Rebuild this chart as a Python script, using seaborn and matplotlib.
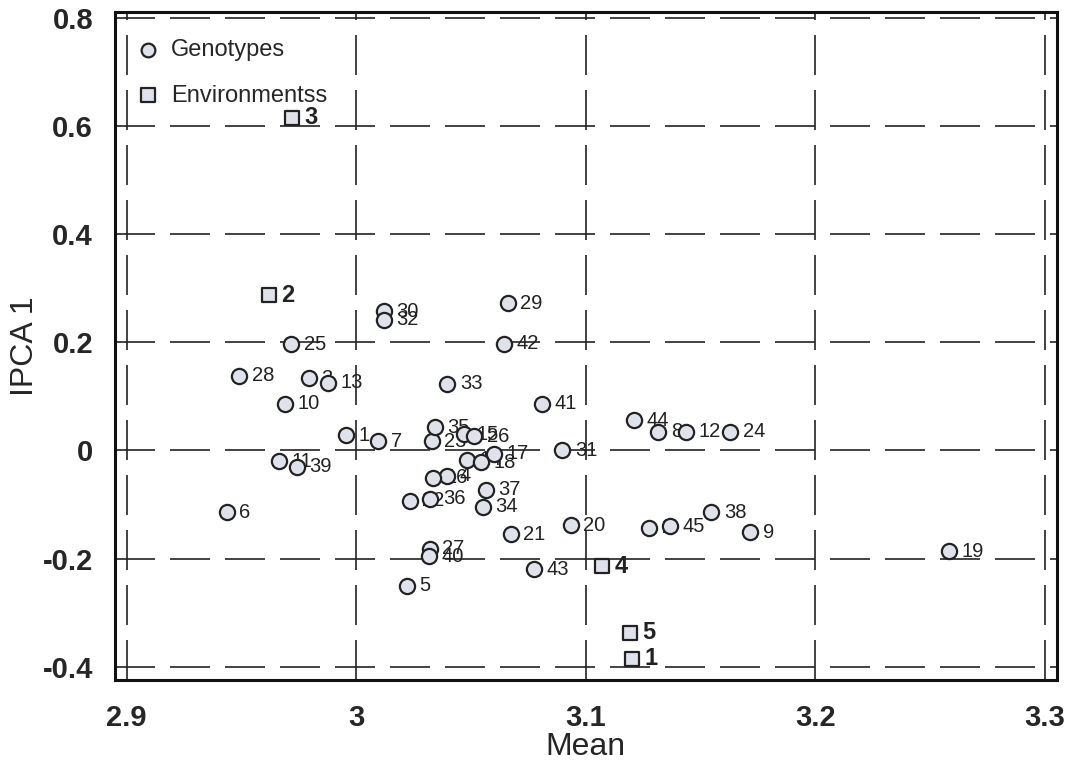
import matplotlib
matplotlib.use("Agg")
import matplotlib.pyplot as plt
import seaborn as sns
import pandas as pd

# Genotypes
geno_labels = [str(i) for i in range(1, 46)]
geno_mean = [2.9953, 3.1276, 2.9793, 3.0397, 3.0220, 2.9435, 3.0095, 3.1315, 3.1716, 2.9690,
             2.9664, 3.1435, 2.9875, 3.0483, 3.0470, 3.0332, 3.0599, 3.0543, 3.2582, 3.0935,
             3.0672, 3.0233, 3.0328, 3.1629, 2.9716, 3.0513, 3.0319, 2.9491, 3.0659, 3.0121,
             3.0897, 3.0121, 3.0397, 3.0552, 3.0341, 3.0323, 3.0565, 3.1547, 2.9741, 3.0315,
             3.0810, 3.0642, 3.0772, 3.1211, 3.1366]
geno_ipca = [0.028, -0.143, 0.134, -0.047, -0.250, -0.114, 0.017, 0.035, -0.151, 0.086,
             -0.020, 0.035, 0.125, -0.017, 0.030, -0.050, -0.006, -0.022, -0.186, -0.138,
             -0.155, -0.093, 0.017, 0.035, 0.196, 0.026, -0.182, 0.138, 0.272, 0.257,
             0.000, 0.242, 0.123, -0.104, 0.043, -0.089, -0.073, -0.114, -0.030, -0.196,
             0.086, 0.197, -0.220, 0.056, -0.140]

# Environments
env_labels = ["1", "2", "3", "4", "5"]
env_mean = [3.120, 2.962, 2.972, 3.107, 3.119]
env_ipca = [-0.385, 0.287, 0.615, -0.214, -0.337]

x_ticks = [2.9, 3.0, 3.1, 3.2, 3.3]
x_ticklabels = ["2.9", "3", "3.1", "3.2", "3.3"]
y_ticks = [0.8, 0.6, 0.4, 0.2, 0.0, -0.2, -0.4]
y_ticklabels = ["0.8", "0.6", "0.4", "0.2", "0", "-0.2", "-0.4"]

sns.set_style("white")
fam = ["Liberation Sans", "DejaVu Sans"]
plt.rcParams["font.family"] = fam

geno = pd.DataFrame({"Mean": geno_mean, "IPCA 1": geno_ipca, "lab": geno_labels})
env = pd.DataFrame({"Mean": env_mean, "IPCA 1": env_ipca, "lab": env_labels})

fig = plt.figure(figsize=(10.77, 7.74), dpi=100)
ax = fig.add_axes([0.107, 0.121, 0.874, 0.863])

# dashed grid
for xv in x_ticks:
    ax.axvline(xv, color="#222222", lw=1.2, ls=(0, (24, 9)), zorder=0)
for yv in y_ticks:
    ax.axhline(yv, color="#222222", lw=1.2, ls=(0, (24, 9)), zorder=0)

sns.scatterplot(data=geno, x="Mean", y="IPCA 1", marker="o", s=120,
                color="#dfe2ea", edgecolor="#222222", linewidth=1.6,
                label="Genotypes", ax=ax, zorder=3)
sns.scatterplot(data=env, x="Mean", y="IPCA 1", marker="s", s=110,
                color="#dfe2ea", edgecolor="#222222", linewidth=1.6,
                label="Environmentss", ax=ax, zorder=3)

for _, r in geno.iterrows():
    ax.annotate(r["lab"], (r["Mean"], r["IPCA 1"]), xytext=(9, 0),
                textcoords="offset points", va="center", ha="left",
                fontsize=14.5, color="#222222", zorder=2)
for _, r in env.iterrows():
    ax.annotate(r["lab"], (r["Mean"], r["IPCA 1"]), xytext=(9, 0),
                textcoords="offset points", va="center", ha="left",
                fontsize=17, fontweight="bold", color="#222222", zorder=2)

ax.set_xlim(2.895, 3.305)
ax.set_ylim(-0.425, 0.81)
ax.set_xticks(x_ticks)
ax.set_xticklabels(x_ticklabels, fontsize=21, fontweight="bold")
ax.set_yticks(y_ticks)
ax.set_yticklabels(y_ticklabels, fontsize=21, fontweight="bold")
ax.tick_params(axis="x", length=0, pad=17)
ax.tick_params(axis="y", length=0, pad=16)
ax.set_xlabel("Mean", fontsize=23, labelpad=0)
ax.set_ylabel("IPCA 1", fontsize=23, labelpad=2)
for sp in ax.spines.values():
    sp.set_visible(True)
    sp.set_linewidth(2.2)
    sp.set_color("#111111")

leg = ax.legend(loc="upper left", bbox_to_anchor=(0.005, 0.985), frameon=False,
                handlelength=1.0, handletextpad=0.45, borderaxespad=0.3,
                labelspacing=1.0, markerscale=0.9, prop={"size": 17})

fig.savefig("out.png", dpi=100)
